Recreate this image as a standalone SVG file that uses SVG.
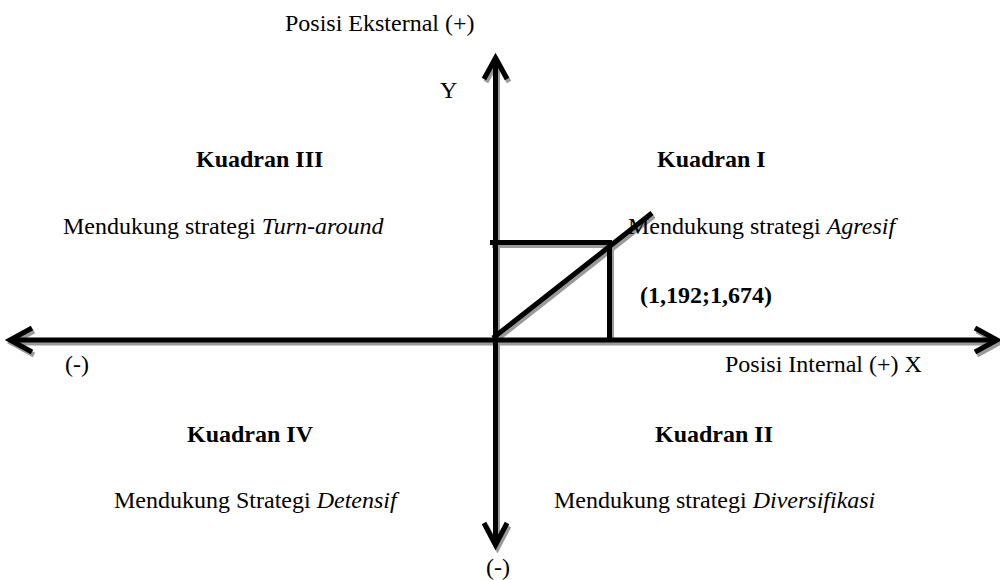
<svg xmlns="http://www.w3.org/2000/svg" width="1000" height="580" viewBox="0 0 1000 580">
<style>
.t{font-family:"Liberation Serif","Times New Roman",serif;font-size:24px;fill:#000}
.b{font-weight:bold}
.i{font-style:italic}
.ln{fill:none;stroke:#000;stroke-width:5;stroke-linejoin:miter;stroke-linecap:butt}
.sh{fill:none;stroke:#9a9a9a;stroke-width:5;stroke-linejoin:miter;stroke-linecap:butt}
</style>
<defs>
<g id="lines">
<line x1="495.5" y1="58" x2="495.5" y2="545"/>
<line x1="10" y1="340" x2="997" y2="340"/>
<polyline points="484,79 495.5,58 507,79"/>
<polyline points="484,523 495.5,545 507,523"/>
<polyline points="32,328 10,340 32,352"/>
<polyline points="975,328 997,340 975,352"/>
<line x1="490" y1="242.5" x2="612" y2="242.5"/>
<line x1="609.5" y1="242.5" x2="609.5" y2="342"/>
<line x1="493" y1="338" x2="652" y2="213"/>
</g>
</defs>
<g id="connectors">
<use href="#lines" class="sh" transform="translate(2,3)"/>
<use href="#lines" class="ln"/>
</g>
<g id="axis-labels">
<text class="t" x="285" y="31">Posisi Eksternal (+)</text>
<text class="t" x="440" y="98">Y</text>
<text class="t" x="65" y="372">(-)</text>
<text class="t" x="725" y="372">Posisi Internal (+) X</text>
<text class="t" x="486" y="575">(-)</text>
</g>
<g id="q3">
<text class="t b" x="196" y="167">Kuadran III</text>
<text class="t" x="63" y="234">Mendukung strategi <tspan class="i">Turn-around</tspan></text>
</g>
<g id="q1">
<text class="t b" x="657" y="167">Kuadran I</text>
<text class="t" x="628" y="234">Mendukung strategi <tspan class="i">Agresif</tspan></text>
<text class="t b" x="640" y="303">(1,192;1,674)</text>
</g>
<g id="q4">
<text class="t b" x="187" y="442">Kuadran IV</text>
<text class="t" x="114" y="508">Mendukung Strategi <tspan class="i">Detensif</tspan></text>
</g>
<g id="q2">
<text class="t b" x="655" y="442">Kuadran II</text>
<text class="t" x="554" y="508">Mendukung strategi <tspan class="i">Diversifikasi</tspan></text>
</g>
</svg>
